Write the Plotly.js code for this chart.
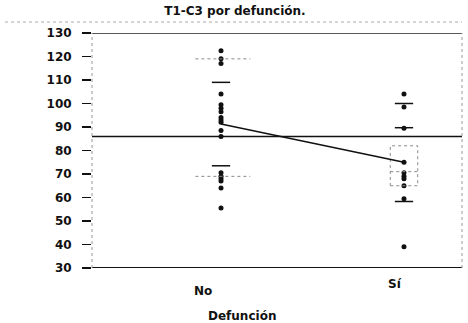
<!DOCTYPE html>
<html>
<head>
<meta charset="utf-8">
<script src="https://cdn.plot.ly/plotly-3.0.1.min.js"></script>
<style>html,body{margin:0;padding:0;background:#fff;}#chart{width:468px;height:323px;}</style>
</head>
<body>
<div id="chart"></div>
<script>
// ---- data ----
const categories = ["No", "Sí"];
const noValues = [122.5, 119, 117, 104, 99.5, 98, 96.5, 94, 93, 92, 88.5, 86, 70.5, 69, 68, 67, 64, 55.5];
const siValues = [104, 98.5, 89.5, 75, 70.5, 69, 68, 65, 59.5, 39];
const means = [91.3, 75.0];
const grandMean = 86;
const ciCaps = [[109, 73.5], [100, 89.7, 58.3]];     // short solid dashes
const wideDotted = [[119, 69], []];                   // wide dotted lines
const siBox = [65, 71, 82];                           // dotted box for "Sí" (low, mid, high)
const yTicks = [30, 40, 50, 60, 70, 80, 90, 100, 110, 120, 130];

const FONT = "DejaVu Sans, Liberation Sans, Arial, sans-serif";
const traces = [];
const xs = [1, 2];

// individual values
[noValues, siValues].forEach((vals, i) => {
  traces.push({
    type: "scatter", mode: "markers",
    x: vals.map(() => xs[i]), y: vals,
    marker: {color: "#111", size: 5, symbol: "circle"},
    hoverinfo: "y", showlegend: false
  });
});

// wide dotted lines
wideDotted.forEach((vals, i) => {
  vals.forEach(v => {
    traces.push({type: "scatter", mode: "lines", x: [xs[i] - 0.14, xs[i] + 0.16], y: [v, v],
      line: {color: "#8a8a8a", width: 1, dash: "dot"}, hoverinfo: "skip", showlegend: false});
  });
});

// dotted box (Sí)
(function () {
  const c = xs[1], w = 0.075;
  traces.push({type: "scatter", mode: "lines",
    x: [c - w, c + w, c + w, c - w, c - w], y: [siBox[0], siBox[0], siBox[2], siBox[2], siBox[0]],
    line: {color: "#8a8a8a", width: 1, dash: "dot"}, hoverinfo: "skip", showlegend: false});
  traces.push({type: "scatter", mode: "lines", x: [c - w, c + w], y: [siBox[1], siBox[1]],
    line: {color: "#8a8a8a", width: 1, dash: "dot"}, hoverinfo: "skip", showlegend: false});
})();

// short solid caps
ciCaps.forEach((vals, i) => {
  vals.forEach(v => {
    traces.push({type: "scatter", mode: "lines", x: [xs[i] - 0.05, xs[i] + 0.05], y: [v, v],
      line: {color: "#111", width: 1.5}, hoverinfo: "skip", showlegend: false});
  });
});

// mean connect line
traces.push({type: "scatter", mode: "lines", x: xs, y: means,
  line: {color: "#111", width: 1.5}, hoverinfo: "y", showlegend: false});

const layout = {
  width: 468, height: 323,
  margin: {l: 92, r: 6, t: 33, b: 55},
  paper_bgcolor: "#fff", plot_bgcolor: "#fff",
  font: {family: FONT, color: "#111"},
  title: {text: "T1-C3 por defunción.", x: 0.502, xanchor: "center", y: 1 - 11 / 323, yanchor: "middle",
    font: {family: FONT, size: 12, weight: "bold", color: "#111"}},
  xaxis: {range: [0.295, 2.317], showticklabels: false, ticks: "", showgrid: false, zeroline: false, showline: false, fixedrange: true},
  yaxis: {range: [30, 130], tickvals: yTicks, ticktext: yTicks.map(String), ticks: "outside", ticklen: 9, tickwidth: 1.5, tickcolor: "#111",
    ticklabelstandoff: 8,
    tickfont: {family: FONT, size: 12, weight: "bold", color: "#111"},
    showgrid: false, zeroline: false, showline: false, fixedrange: true},
  shapes: [
    {type: "line", xref: "paper", yref: "y", x0: 0, x1: 1, y0: grandMean, y1: grandMean, line: {color: "#111", width: 1.5}},
    {type: "line", xref: "paper", yref: "y", x0: 0, x1: 1, y0: 130, y1: 130, line: {color: "#222", width: 1.5}},
    {type: "line", xref: "paper", yref: "y", x0: 0, x1: 1, y0: 30, y1: 30, line: {color: "#111", width: 2}},
    {type: "line", xref: "paper", yref: "y", x0: 0, x1: 0, y0: 30, y1: 130, line: {color: "#999", width: 1, dash: "dot"}},
    {type: "line", xref: "paper", yref: "y", x0: 1, x1: 1, y0: 30, y1: 130, line: {color: "#999", width: 1, dash: "dot"}},
    {type: "line", xref: "paper", yref: "paper", x0: -0.235, x1: 1, y0: 1 + 11 / 235, y1: 1 + 11 / 235, line: {color: "#aaa", width: 1, dash: "dot"}}
  ],
  annotations: [
    {text: categories[0], xref: "x", yref: "paper", x: xs[0], y: -23 / 235, xshift: -18, showarrow: false,
      xanchor: "center", yanchor: "middle", font: {family: FONT, size: 12, weight: "bold", color: "#111"}},
    {text: categories[1], xref: "x", yref: "paper", x: xs[1], y: -16 / 235, xshift: -9, showarrow: false,
      xanchor: "center", yanchor: "middle", font: {family: FONT, size: 12, weight: "bold", color: "#111"}},
    {text: "Defunción", xref: "paper", yref: "paper", x: (242 - 92) / 370, y: -48 / 235, showarrow: false,
      xanchor: "center", yanchor: "middle", font: {family: FONT, size: 12, weight: "bold", color: "#111"}}
  ]
};

Plotly.newPlot("chart", traces, layout, {staticPlot: true, displayModeBar: false});
</script>
</body>
</html>
